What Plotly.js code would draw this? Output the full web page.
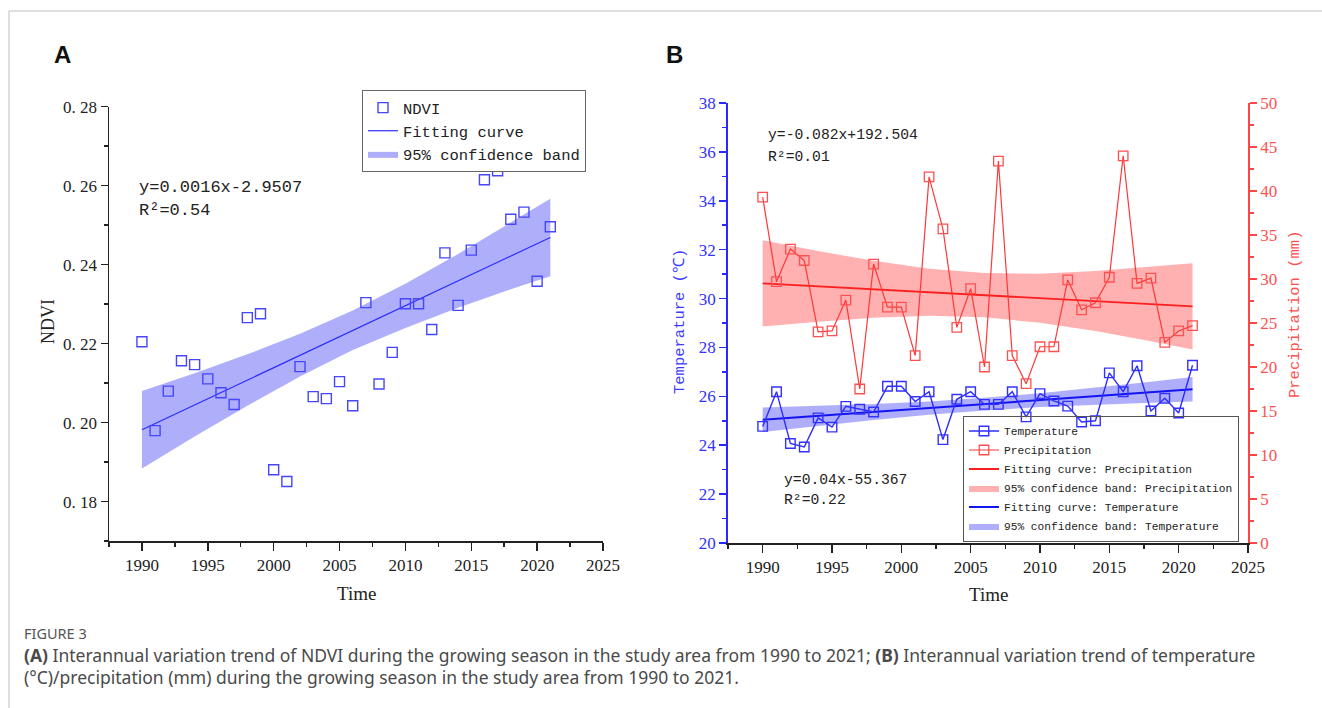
<!DOCTYPE html>
<html><head><meta charset="utf-8">
<script src="https://cdn.plot.ly/plotly-3.0.1.min.js"></script>
<style>html,body{margin:0;padding:0;background:#fff}#chart{width:1322px;height:708px}</style>
</head><body><div id="chart"></div>
<script>
// ---------------- data ----------------
const years = [1990,1991,1992,1993,1994,1995,1996,1997,1998,1999,2000,2001,2002,2003,2004,2005,2006,2007,2008,2009,2010,2011,2012,2013,2014,2015,2016,2017,2018,2019,2020,2021];
const ndvi = [0.2205,0.1980,0.2080,0.2157,0.2147,0.2111,0.2076,0.2046,0.2266,0.2276,0.1881,0.1851,0.2142,0.2066,0.2061,0.2104,0.2043,0.2304,0.2098,0.2178,0.2301,0.2301,0.2236,0.2430,0.2297,0.2437,0.2615,0.2638,0.2515,0.2533,0.2358,0.2496];
const temperature = [24.77,26.19,24.07,23.93,25.12,24.74,25.59,25.47,25.36,26.41,26.41,25.79,26.19,24.23,25.88,26.19,25.67,25.67,26.19,25.16,26.11,25.81,25.60,24.95,25.00,26.96,26.19,27.25,25.40,25.92,25.32,27.27];
const precipitation = [39.3,29.7,33.4,32.1,24.0,24.1,27.6,17.5,31.7,26.8,26.8,21.3,41.6,35.7,24.5,28.9,20.0,43.4,21.3,18.1,22.3,22.3,29.9,26.5,27.3,30.2,44.0,29.5,30.1,22.8,24.1,24.7];

const fitYears = [1990, 2021];
const ndviFit = [0.1982, 0.2469];
const tempFit = [25.04, 26.29];
const precFit = [29.5, 26.9];

const bandYears = [1990,1994,1998,2002,2006,2010,2014,2018,2021];
const ndviUpper = [0.2080,0.2125,0.2173,0.2225,0.2284,0.2352,0.2427,0.2506,0.2567];
const ndviLower = [0.1884,0.1965,0.2043,0.2117,0.2184,0.2240,0.2291,0.2338,0.2371];
const tempUpper = [25.54,25.61,25.69,25.79,25.94,26.13,26.35,26.60,26.79];
const tempLower = [24.54,24.79,25.03,25.25,25.42,25.56,25.66,25.74,25.79];
const precUpper = [34.4,33.17,32.06,31.17,30.67,30.61,30.90,31.37,31.8];
const precLower = [24.6,25.15,25.60,25.81,25.65,25.03,24.08,22.93,22.0];

const ndviTickVals = [0.18,0.20,0.22,0.24,0.26,0.28];
const ndviTickText = ["0. 18","0. 20","0. 22","0. 24","0. 26","0. 28"];
const ndviMinorVals = [0.17,0.19,0.21,0.23,0.25,0.27];

const eqA = ["y=0.0016x-2.9507", "R²=0.54"];
const eqPrec = ["y=-0.082x+192.504", "R²=0.01"];
const eqTemp = ["y=0.04x-55.367", "R²=0.22"];

const captionHead = "FIGURE 3";
const captionLine1 = "<b>(A)</b> Interannual variation trend of NDVI during the growing season in the study area from 1990 to 2021; <b>(B)</b> Interannual variation trend of temperature";
const captionLine2 = "(°C)/precipitation (mm) during the growing season in the study area from 1990 to 2021.";

// ---------------- helpers ----------------
const W = 1322, H = 708;
const px = x => x / W;
const py = y => 1 - y / H;
const loop = (xs, up, lo) => ({x: xs.concat(xs.slice().reverse()), y: up.concat(lo.slice().reverse())});

const BLUE = 'rgb(45,45,255)';
const RED = 'rgb(255,55,55)';
const MONO = 'Liberation Mono, monospace';
const SERIF = 'Liberation Serif, serif';

const bA = loop(bandYears, ndviUpper, ndviLower);
const bT = loop(bandYears, tempUpper, tempLower);
const bP = loop(bandYears, precUpper, precLower);

const traces = [
  // Panel A
  {x: bA.x, y: bA.y, type:'scatter', mode:'lines', fill:'toself', fillcolor:'rgba(120,120,248,0.6)', line:{width:0, color:'rgba(0,0,0,0)'}, name:'95% confidence band', legend:'legend', legendrank:3, xaxis:'x', yaxis:'y', hoverinfo:'skip'},
  {x: fitYears, y: ndviFit, type:'scatter', mode:'lines', line:{color:BLUE, width:1.2}, name:'Fitting curve', legend:'legend', legendrank:2, xaxis:'x', yaxis:'y'},
  {x: years, y: ndvi, type:'scatter', mode:'markers', marker:{symbol:'square-open', size:10, color:'rgb(70,70,255)', line:{width:1.4}}, name:'NDVI', legend:'legend', legendrank:1, xaxis:'x', yaxis:'y'},
  // Panel B
  {x: bP.x, y: bP.y, type:'scatter', mode:'lines', fill:'toself', fillcolor:'rgba(255,120,120,0.58)', line:{width:0, color:'rgba(0,0,0,0)'}, name:'95% confidence band: Precipitation', legend:'legend2', legendrank:4, xaxis:'x2', yaxis:'y3', hoverinfo:'skip'},
  {x: bT.x, y: bT.y, type:'scatter', mode:'lines', fill:'toself', fillcolor:'rgba(120,120,248,0.6)', line:{width:0, color:'rgba(0,0,0,0)'}, name:'95% confidence band: Temperature', legend:'legend2', legendrank:6, xaxis:'x2', yaxis:'y2', hoverinfo:'skip'},
  {x: fitYears, y: precFit, type:'scatter', mode:'lines', line:{color:'rgb(255,30,30)', width:1.8}, name:'Fitting curve: Precipitation', legend:'legend2', legendrank:3, xaxis:'x2', yaxis:'y3'},
  {x: fitYears, y: tempFit, type:'scatter', mode:'lines', line:{color:'rgb(20,20,240)', width:2}, name:'Fitting curve: Temperature', legend:'legend2', legendrank:5, xaxis:'x2', yaxis:'y2'},
  {x: years, y: precipitation, type:'scatter', mode:'lines+markers', line:{color:RED, width:1.2}, marker:{symbol:'square-open', size:9.5, color:'rgb(255,80,80)', line:{width:1.3}}, name:'Precipitation', legend:'legend2', legendrank:2, xaxis:'x2', yaxis:'y3'},
  {x: years, y: temperature, type:'scatter', mode:'lines+markers', line:{color:BLUE, width:1.4}, marker:{symbol:'square-open', size:9.5, color:'rgb(50,50,255)', line:{width:1.4}}, name:'Temperature', legend:'legend2', legendrank:1, xaxis:'x2', yaxis:'y2'}
];

const tickFont = c => ({family:SERIF, size:17, color:c});
const xCommon = {
  range:[1987.5, 2025], tickmode:'linear', tick0:1990, dtick:5, ticks:'outside', ticklen:8, tickwidth:1.5, tickcolor:'#222',
  showline:true, linecolor:'#222', linewidth:1.5, showgrid:false, zeroline:false, tickfont:tickFont('#222'),
  minor:{tickmode:'linear', tick0:1987.5, dtick:2.5, ticks:'outside', ticklen:4, tickwidth:1.5, tickcolor:'#222', showgrid:false}
};

const layout = {
  width:W, height:H, autosize:false, margin:{l:0,r:0,t:0,b:0}, paper_bgcolor:'white', plot_bgcolor:'rgba(0,0,0,0)',
  showlegend:true,
  xaxis: Object.assign({}, xCommon, {domain:[px(109), px(603)], anchor:'y'}),
  yaxis: {domain:[py(541.2), py(106.7)], range:[0.17,0.28], anchor:'x', tickmode:'array', tickvals:ndviTickVals, ticktext:ndviTickText,
          ticks:'outside', ticklen:7, tickwidth:1.5, tickcolor:'#222', showline:true, linecolor:'#222', linewidth:1.5, showgrid:false, zeroline:false,
          tickfont:tickFont('#222'), minor:{tickmode:'array', tickvals:ndviMinorVals, ticks:'outside', ticklen:4, tickwidth:1.5, tickcolor:'#222', showgrid:false}},
  xaxis2: Object.assign({}, xCommon, {domain:[px(728), px(1248)], anchor:'y2'}),
  yaxis2: {domain:[py(543), py(103)], range:[20,38], anchor:'x2', tickmode:'linear', tick0:20, dtick:2,
           ticks:'outside', ticklen:7, tickwidth:1.5, tickcolor:'rgb(40,40,255)', showline:true, linecolor:'rgb(40,40,255)', linewidth:1.8, showgrid:false, zeroline:false,
           tickfont:tickFont('rgb(50,50,255)'), minor:{tickmode:'linear', tick0:21, dtick:2, ticks:'outside', ticklen:4, tickwidth:1.5, tickcolor:'rgb(40,40,255)', showgrid:false}},
  yaxis3: {domain:[py(543), py(103)], range:[0,50], anchor:'x2', overlaying:'y2', side:'right', tickmode:'linear', tick0:0, dtick:5,
           ticks:'outside', ticklen:7, tickwidth:1.5, tickcolor:'rgb(255,70,70)', showline:true, linecolor:'rgb(255,70,70)', linewidth:1.8, showgrid:false, zeroline:false,
           tickfont:tickFont('rgb(255,80,80)'), minor:{tickmode:'linear', tick0:2.5, dtick:5, ticks:'outside', ticklen:4, tickwidth:1.5, tickcolor:'rgb(255,70,70)', showgrid:false}},
  legend: {x:px(362), y:py(90), xanchor:'left', yanchor:'top', bgcolor:'white', bordercolor:'#666', borderwidth:1,
           font:{family:MONO, size:15.5, color:'#222'}, itemwidth:30, traceorder:'normal', tracegroupgap:0},
  legend2: {x:px(963), y:py(541.5), xanchor:'left', yanchor:'bottom', bgcolor:'rgba(255,255,255,0)', bordercolor:'#555', borderwidth:1,
           font:{family:MONO, size:11.2, color:'#222'}, itemwidth:30, traceorder:'normal', tracegroupgap:0},
  shapes: [
    {type:'line', xref:'paper', yref:'paper', x0:px(9), x1:1, y0:py(11), y1:py(11), line:{color:'#d4d4d4', width:1.5}},
    {type:'line', xref:'paper', yref:'paper', x0:px(9), x1:px(9), y0:py(11), y1:0, line:{color:'#d4d4d4', width:1.5}}
  ],
  annotations: [
    {text:'A', x:px(62), y:py(55), xref:'paper', yref:'paper', showarrow:false, xanchor:'center', yanchor:'middle', font:{family:'Liberation Sans, Arial, sans-serif', size:24, color:'#111', weight:'bold'}},
    {text:'B', x:px(674), y:py(55), xref:'paper', yref:'paper', showarrow:false, xanchor:'center', yanchor:'middle', font:{family:'Liberation Sans, Arial, sans-serif', size:24, color:'#111', weight:'bold'}},
    {text:eqA[0], x:px(137), y:py(187), xref:'paper', yref:'paper', showarrow:false, xanchor:'left', yanchor:'middle', font:{family:MONO, size:17, color:'#222'}},
    {text:eqA[1], x:px(137), y:py(211), xref:'paper', yref:'paper', showarrow:false, xanchor:'left', yanchor:'middle', font:{family:MONO, size:17, color:'#222'}},
    {text:eqPrec[0], x:px(766), y:py(135), xref:'paper', yref:'paper', showarrow:false, xanchor:'left', yanchor:'middle', font:{family:MONO, size:14.7, color:'#222'}},
    {text:eqPrec[1], x:px(766), y:py(157), xref:'paper', yref:'paper', showarrow:false, xanchor:'left', yanchor:'middle', font:{family:MONO, size:14.7, color:'#222'}},
    {text:eqTemp[0], x:px(782), y:py(480), xref:'paper', yref:'paper', showarrow:false, xanchor:'left', yanchor:'middle', font:{family:MONO, size:14.7, color:'#222'}},
    {text:eqTemp[1], x:px(782), y:py(500), xref:'paper', yref:'paper', showarrow:false, xanchor:'left', yanchor:'middle', font:{family:MONO, size:14.7, color:'#222'}},
    {text:'NDVI', x:px(48), y:py(322), xref:'paper', yref:'paper', showarrow:false, textangle:-90, xanchor:'center', yanchor:'middle', font:{family:SERIF, size:18, color:'#222'}},
    {text:'Time', x:px(357), y:py(593), xref:'paper', yref:'paper', showarrow:false, xanchor:'center', yanchor:'middle', font:{family:SERIF, size:19, color:'#222'}},
    {text:'Time', x:px(988), y:py(594), xref:'paper', yref:'paper', showarrow:false, xanchor:'center', yanchor:'middle', font:{family:SERIF, size:19, color:'#222'}},
    {text:'Temperature (℃)', x:px(680), y:py(322), xref:'paper', yref:'paper', showarrow:false, textangle:-90, xanchor:'center', yanchor:'middle', font:{family:MONO, size:15.5, color:'rgb(60,60,255)'}},
    {text:'Precipitation (mm)', x:px(1295), y:py(315), xref:'paper', yref:'paper', showarrow:false, textangle:-90, xanchor:'center', yanchor:'middle', font:{family:MONO, size:15.5, color:'rgb(255,80,80)'}},
    {text:captionHead, x:px(22), y:py(633), xref:'paper', yref:'paper', showarrow:false, xanchor:'left', yanchor:'middle', font:{family:'Noto Sans, sans-serif', size:14.5, color:'#555'}},
    {text:captionLine1, x:px(22), y:py(655), xref:'paper', yref:'paper', showarrow:false, xanchor:'left', yanchor:'middle', align:'left', font:{family:'Noto Sans, sans-serif', size:17.5, color:'#4a4a4a'}},
    {text:captionLine2, x:px(22), y:py(677), xref:'paper', yref:'paper', showarrow:false, xanchor:'left', yanchor:'middle', align:'left', font:{family:'Noto Sans, sans-serif', size:17.5, color:'#4a4a4a'}}
  ]
};

Plotly.newPlot('chart', traces, layout, {displayModeBar:false, staticPlot:true});
</script>
</body></html>
